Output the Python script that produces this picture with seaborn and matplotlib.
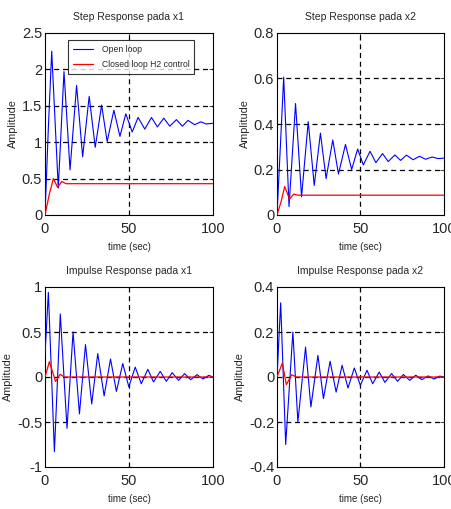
import warnings
import pandas as pd
import matplotlib
matplotlib.use("Agg")
import matplotlib.pyplot as plt
import seaborn as sns

warnings.filterwarnings("ignore")

# ==========================================
# DATA (extrema + ends)
# ==========================================
# Step response x1
step1_open_t = [0, 2, 4.0, 7.9, 11.3, 14.9, 18.8, 22.4, 26.3, 29.9, 33.7, 37.0, 41.0, 44.6,
                48.1, 51.9, 55.4, 59.4, 63.4, 66.9, 70.7, 74.3, 78.2, 81.8, 85.1, 89.1,
                92.7, 96.0, 100]
step1_open_y = [0, 1.2, 2.25, 0.37, 1.97, 0.62, 1.78, 0.80, 1.63, 0.93, 1.51, 1.01, 1.44, 1.08,
                1.39, 1.14, 1.34, 1.18, 1.34, 1.21, 1.33, 1.22, 1.31, 1.22, 1.30, 1.24,
                1.28, 1.25, 1.26]
step1_closed_t = [0, 2.5, 5.0, 7.5, 10.0, 12.5, 100]
step1_closed_y = [0, 0.28, 0.50, 0.38, 0.46, 0.43, 0.43]

# Step response x2
step2_open_t = [0, 2, 4.0, 7.2, 11.1, 14.7, 18.7, 22.3, 26.0, 29.4, 33.4, 36.8, 41.0, 44.7,
                48.3, 51.7, 55.7, 59.2, 63.2, 66.6, 70.6, 74.0, 77.5, 81.5, 85.3, 89.0,
                92.8, 96.5, 100]
step2_open_y = [0, 0.30, 0.606, 0.037, 0.49, 0.08, 0.41, 0.13, 0.36, 0.16, 0.33, 0.18, 0.31, 0.20,
                0.29, 0.22, 0.28, 0.23, 0.27, 0.235, 0.264, 0.24, 0.263, 0.243, 0.258, 0.245,
                0.255, 0.248, 0.25]
step2_closed_t = [0, 2.5, 4.6, 7.5, 10.0, 12.5, 100]
step2_closed_y = [0, 0.06, 0.125, 0.07, 0.092, 0.087, 0.087]

# Impulse response x1
imp1_open_t = [0, 2.0, 5.6, 9.1, 13.1, 16.7, 20.5, 24.1, 27.8, 31.4, 35.2, 39.0, 42.5, 46.3,
               49.9, 53.7, 57.3, 61.2, 64.6, 68.6, 72.2, 75.7, 79.5, 83.1, 86.7, 90.5, 94.0, 97.5, 100]
imp1_open_y = [0.25, 0.94, -0.83, 0.70, -0.57, 0.50, -0.41, 0.36, -0.30, 0.26, -0.21, 0.20, -0.16, 0.15,
               -0.11, 0.11, -0.075, 0.085, -0.055, 0.063, -0.048, 0.048, -0.037, 0.037, -0.03, 0.026,
               -0.022, 0.018, 0.0]
imp1_closed_t = [0, 2.6, 6.3, 9.0, 11.5, 100]
imp1_closed_y = [0, 0.17, -0.05, 0.03, 0.0, 0.0]

# Impulse response x2
imp2_open_t = [0, 2.2, 5.2, 9.5, 12.5, 17.1, 20.3, 24.5, 27.8, 31.8, 35.4, 39.0, 42.5, 46.3,
               49.9, 53.9, 57.3, 61.2, 64.6, 68.6, 72.2, 75.7, 79.5, 83.1, 86.7, 90.5, 94.0, 97.5, 100]
imp2_open_y = [0, 0.33, -0.30, 0.20, -0.20, 0.133, -0.133, 0.096, -0.096, 0.07, -0.067, 0.052, -0.049, 0.04,
               -0.037, 0.03, -0.03, 0.022, -0.024, 0.015, -0.019, 0.011, -0.015, 0.008, -0.012, 0.005,
               -0.009, 0.004, 0.0]
imp2_closed_t = [0, 3.2, 5.6, 8.8, 11.5, 100]
imp2_closed_y = [0, 0.062, -0.034, 0.01, 0.0, 0.0]

titles = ["Step Response pada x1", "Step Response pada x2",
          "Impulse Response pada x1", "Impulse Response pada x2"]
y_ticks = [[0, 0.5, 1, 1.5, 2, 2.5],
           [0, 0.2, 0.4, 0.6, 0.8],
           [-1, -0.5, 0, 0.5, 1],
           [-0.4, -0.2, 0, 0.2, 0.4]]
y_labels = [["0", "0.5", "1", "1.5", "2", "2.5"],
            ["0", "0.2", "0.4", "0.6", "0.8"],
            ["-1", "-0.5", "0", "0.5", "1"],
            ["-0.4", "-0.2", "0", "0.2", "0.4"]]
x_ticks = [0, 50, 100]
legend_labels = ["Open loop", "Closed loop H2 control"]

# ==========================================
# STYLE
# ==========================================
sns.set_style("white")
plt.rcParams['font.family'] = ['Liberation Sans', 'DejaVu Sans']

fig = plt.figure(figsize=(4.52, 5.09), dpi=100)
W, H = 452, 509
boxes = [(45, 33, 213, 215), (277, 33, 444, 215), (45, 287, 213, 467), (277, 287, 444, 467)]

series = [
    (step1_open_t, step1_open_y, step1_closed_t, step1_closed_y),
    (step2_open_t, step2_open_y, step2_closed_t, step2_closed_y),
    (imp1_open_t, imp1_open_y, imp1_closed_t, imp1_closed_y),
    (imp2_open_t, imp2_open_y, imp2_closed_t, imp2_closed_y),
]

for i, (x0, y0, x1, y1) in enumerate(boxes):
    ax = fig.add_axes([x0 / W, (H - y1) / H, (x1 - x0) / W, (y1 - y0) / H])
    ot, oy, ct, cy = series[i]
    df_open = pd.DataFrame({'t': ot, 'y': oy})
    df_closed = pd.DataFrame({'t': ct, 'y': cy})

    # dashed grid first (under the curves)
    for yv in y_ticks[i][1:-1]:
        ax.axhline(yv, color='black', linestyle=(0, (4, 3)), linewidth=0.9, zorder=1)
    ax.axvline(50, color='black', linestyle=(0, (4, 3)), linewidth=0.9, zorder=1)

    sns.lineplot(data=df_open, x='t', y='y', ax=ax, color='#0000ff', linewidth=0.8,
                 estimator=None, sort=False, label=legend_labels[0], zorder=3)
    sns.lineplot(data=df_closed, x='t', y='y', ax=ax, color='#ff0000', linewidth=0.9,
                 estimator=None, sort=False, label=legend_labels[1], zorder=4)

    ax.set_xlim(0, 100)
    ax.set_ylim(y_ticks[i][0], y_ticks[i][-1])
    ax.set_xticks(x_ticks)
    ax.set_xticklabels([str(v) for v in x_ticks])
    ax.set_yticks(y_ticks[i])
    ax.set_yticklabels(y_labels[i])
    ax.tick_params(direction='in', length=3, width=0.6, labelsize=10.5,
                   top=True, right=True, left=True, bottom=True)
    ax.tick_params(axis='x', pad=5)
    ax.tick_params(axis='y', pad=2)
    for sp in ax.spines.values():
        sp.set_color('black')
        sp.set_linewidth(0.8)
    ax.set_title(titles[i], fontsize=7.5, pad=9)
    ax.set_xlabel("time (sec)", fontsize=7, labelpad=4)
    ax.set_ylabel("Amplitude", fontsize=7.8, labelpad=3)

    if i == 0:
        leg = ax.legend(loc='upper left', bbox_to_anchor=(0.11, 0.985), fontsize=6.2,
                        frameon=True, fancybox=False, handlelength=2.4, borderpad=0.55,
                        labelspacing=0.75, handletextpad=1.0)
        leg.get_frame().set_edgecolor('black')
        leg.get_frame().set_linewidth(0.8)
    else:
        ax.get_legend().remove()

fig.savefig("out.png", dpi=100)
